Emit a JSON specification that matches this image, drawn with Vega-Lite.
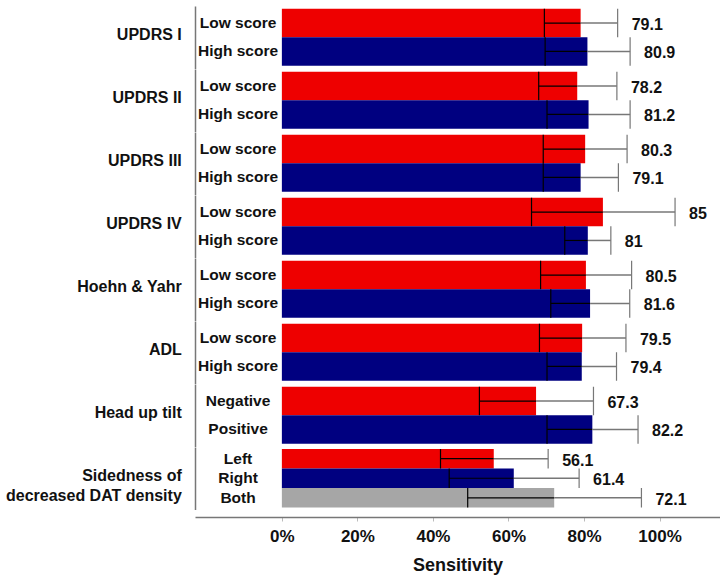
{
  "$schema": "https://vega.github.io/schema/vega-lite/v6.json",
  "padding": {"left": 6, "top": 6, "right": 0, "bottom": 4},
  "background": "white",
  "config": {
    "view": {"stroke": null},
    "font": "Liberation Sans"
  },
  "data": {
    "values": [
      {"group": "UPDRS I", "sub": "Low score", "value": 79.1, "lo": 69.5, "hi": 88.9},
      {"group": "UPDRS I", "sub": "High score", "value": 80.9, "lo": 69.7, "hi": 92.2},
      {"group": "UPDRS II", "sub": "Low score", "value": 78.2, "lo": 68.0, "hi": 88.7},
      {"group": "UPDRS II", "sub": "High score", "value": 81.2, "lo": 70.2, "hi": 92.2},
      {"group": "UPDRS III", "sub": "Low score", "value": 80.3, "lo": 69.2, "hi": 91.4},
      {"group": "UPDRS III", "sub": "High score", "value": 79.1, "lo": 69.2, "hi": 89.1},
      {"group": "UPDRS IV", "sub": "Low score", "value": 85, "lo": 66.1, "hi": 104.1},
      {"group": "UPDRS IV", "sub": "High score", "value": 81, "lo": 74.9, "hi": 87.1},
      {"group": "Hoehn & Yahr", "sub": "Low score", "value": 80.5, "lo": 68.5, "hi": 92.6},
      {"group": "Hoehn & Yahr", "sub": "High score", "value": 81.6, "lo": 71.2, "hi": 92.1},
      {"group": "ADL", "sub": "Low score", "value": 79.5, "lo": 68.2, "hi": 91.1},
      {"group": "ADL", "sub": "High score", "value": 79.4, "lo": 70.2, "hi": 88.6},
      {"group": "Head up tilt", "sub": "Negative", "value": 67.3, "lo": 52.3, "hi": 82.5},
      {"group": "Head up tilt", "sub": "Positive", "value": 82.2, "lo": 70.2, "hi": 94.3},
      {"group": "Sidedness of|decreased DAT density", "sub": "Left", "value": 56.1, "lo": 42.0, "hi": 70.5},
      {"group": "Sidedness of|decreased DAT density", "sub": "Right", "value": 61.4, "lo": 44.3, "hi": 78.7},
      {"group": "Sidedness of|decreased DAT density", "sub": "Both", "value": 72.1, "lo": 49.2, "hi": 95.2}
    ]
  },
  "facet": {
    "row": {
      "field": "group",
      "type": "nominal",
      "sort": ["UPDRS I", "UPDRS II", "UPDRS III", "UPDRS IV", "Hoehn & Yahr", "ADL", "Head up tilt", "Sidedness of|decreased DAT density"],
      "header": {"title": null, "labels": false}
    }
  },
  "spacing": {"row": 0},
  "resolve": {"scale": {"y": "independent"}},
  "spec": {
    "width": 525,
    "height": 62.5,
    "layer": [
      {
        "mark": {"type": "bar"},
        "encoding": {
          "y": {
            "field": "sub",
            "type": "nominal",
            "sort": ["Low score", "High score", "Negative", "Positive", "Left", "Right", "Both"],
            "scale": {"paddingInner": 0, "paddingOuter": 0.1},
            "axis": {"labels": false, "ticks": false, "title": null, "domain": true, "domainColor": "#777", "domainWidth": 1.5}
          },
          "x": {
            "field": "value",
            "type": "quantitative",
            "scale": {"domain": [-23, 116], "nice": false, "zero": false},
            "axis": {
              "values": [0, 20, 40, 60, 80, 100],
              "labelExpr": "datum.value + '%'",
              "grid": false,
              "offset": 7,
              "domainColor": "#777",
              "domainWidth": 1.5,
              "tickColor": "#bbb",
              "tickSize": 4,
              "labelFontSize": 17,
              "labelFontWeight": "bold",
              "labelColor": "#111",
              "labelPadding": 7,
              "title": "Sensitivity",
              "titleFontSize": 18,
              "titleFontWeight": "bold",
              "titleColor": "#111",
              "titlePadding": 12
            }
          },
          "x2": {"datum": 0},
          "color": {
            "field": "sub",
            "type": "nominal",
            "scale": {
              "domain": ["Low score", "High score", "Negative", "Positive", "Left", "Right", "Both"],
              "range": ["#EE0000", "#000080", "#EE0000", "#000080", "#EE0000", "#000080", "#A6A6A6"]
            },
            "legend": null
          }
        }
      },
      {
        "mark": {"type": "rule", "color": "#000", "strokeWidth": 1.2},
        "encoding": {
          "y": {"field": "sub", "type": "nominal", "sort": ["Low score", "High score", "Negative", "Positive", "Left", "Right", "Both"]},
          "x": {"field": "lo", "type": "quantitative"},
          "x2": {"field": "value"}
        }
      },
      {
        "mark": {"type": "rule", "color": "#777", "strokeWidth": 1.5},
        "encoding": {
          "y": {"field": "sub", "type": "nominal", "sort": ["Low score", "High score", "Negative", "Positive", "Left", "Right", "Both"]},
          "x": {"field": "value", "type": "quantitative"},
          "x2": {"field": "hi"}
        }
      },
      {
        "mark": {"type": "bar", "fillOpacity": 0, "stroke": "#000", "strokeWidth": 1.2},
        "encoding": {
          "y": {"field": "sub", "type": "nominal", "sort": ["Low score", "High score", "Negative", "Positive", "Left", "Right", "Both"]},
          "x": {"field": "lo", "type": "quantitative"},
          "x2": {"field": "lo"}
        }
      },
      {
        "mark": {"type": "bar", "fillOpacity": 0, "stroke": "#777", "strokeWidth": 1.2},
        "encoding": {
          "y": {"field": "sub", "type": "nominal", "sort": ["Low score", "High score", "Negative", "Positive", "Left", "Right", "Both"]},
          "x": {"field": "hi", "type": "quantitative"},
          "x2": {"field": "hi"}
        }
      },
      {
        "mark": {"type": "text", "align": "left", "baseline": "middle", "dx": 14, "dy": 2, "fontSize": 16, "fontWeight": "bold", "color": "#111"},
        "encoding": {
          "y": {"field": "sub", "type": "nominal", "sort": ["Low score", "High score", "Negative", "Positive", "Left", "Right", "Both"]},
          "x": {"field": "hi", "type": "quantitative"},
          "text": {"field": "value", "type": "nominal"}
        }
      },
      {
        "mark": {"type": "text", "align": "center", "baseline": "middle", "fontSize": 15.5, "fontWeight": "bold", "color": "#111"},
        "encoding": {
          "y": {"field": "sub", "type": "nominal", "sort": ["Low score", "High score", "Negative", "Positive", "Left", "Right", "Both"]},
          "x": {"datum": -11.6},
          "text": {"field": "sub", "type": "nominal"}
        }
      },
      {
        "transform": [{"aggregate": [{"op": "count", "as": "n"}], "groupby": ["group"]}],
        "mark": {"type": "text", "align": "right", "baseline": "middle", "dy": -2, "fontSize": 16, "fontWeight": "bold", "color": "#111", "lineBreak": "|", "lineHeight": 20},
        "encoding": {
          "x": {"datum": -26.5},
          "text": {"field": "group", "type": "nominal"}
        }
      }
    ]
  }
}
